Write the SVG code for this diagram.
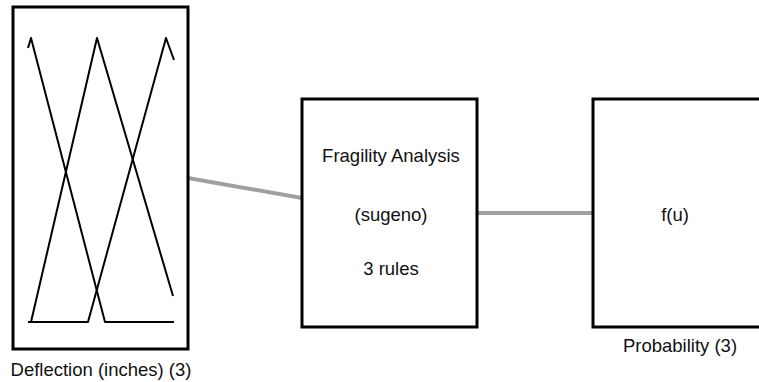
<svg xmlns="http://www.w3.org/2000/svg" width="759" height="382" viewBox="0 0 759 382">
  <style>
    .box { fill: #ffffff; stroke: #000000; stroke-width: 3; }
    .mf { fill: none; stroke: #000000; stroke-width: 2; stroke-linejoin: round; }
    .link { stroke: #a0a0a0; stroke-width: 4; fill: none; }
    .lbl { font-family: "Liberation Sans", Arial, sans-serif; font-size: 18.5px; fill: #111111; text-anchor: middle; }
  </style>
  <rect width="759" height="382" fill="#ffffff"/>

  <!-- connectors between blocks -->
  <g id="connectors">
    <line class="link" x1="188" y1="178" x2="302" y2="198"/>
    <line class="link" x1="477" y1="213" x2="593" y2="213"/>
  </g>

  <!-- input variable with three triangular membership functions -->
  <g id="input-deflection">
    <rect class="box" x="13" y="7" width="175" height="342"/>
    <polyline class="mf" points="28,48 31,38 105,322 174,322"/>
    <polyline class="mf" points="28,322 31,322 97,38 173,296"/>
    <polyline class="mf" points="31,322 88,322 166,38 174,60"/>
    <text class="lbl" x="101" y="376">Deflection (inches) (3)</text>
  </g>

  <!-- fuzzy inference system -->
  <g id="fis">
    <rect class="box" x="302" y="99" width="175" height="228"/>
    <text class="lbl" x="391" y="162">Fragility Analysis</text>
    <text class="lbl" x="391" y="221">(sugeno)</text>
    <text class="lbl" x="391" y="275">3 rules</text>
  </g>

  <!-- output variable -->
  <g id="output-probability">
    <rect class="box" x="593" y="99" width="180" height="228"/>
    <text class="lbl" x="675" y="221">f(u)</text>
    <text class="lbl" x="680" y="352">Probability (3)</text>
  </g>
</svg>
